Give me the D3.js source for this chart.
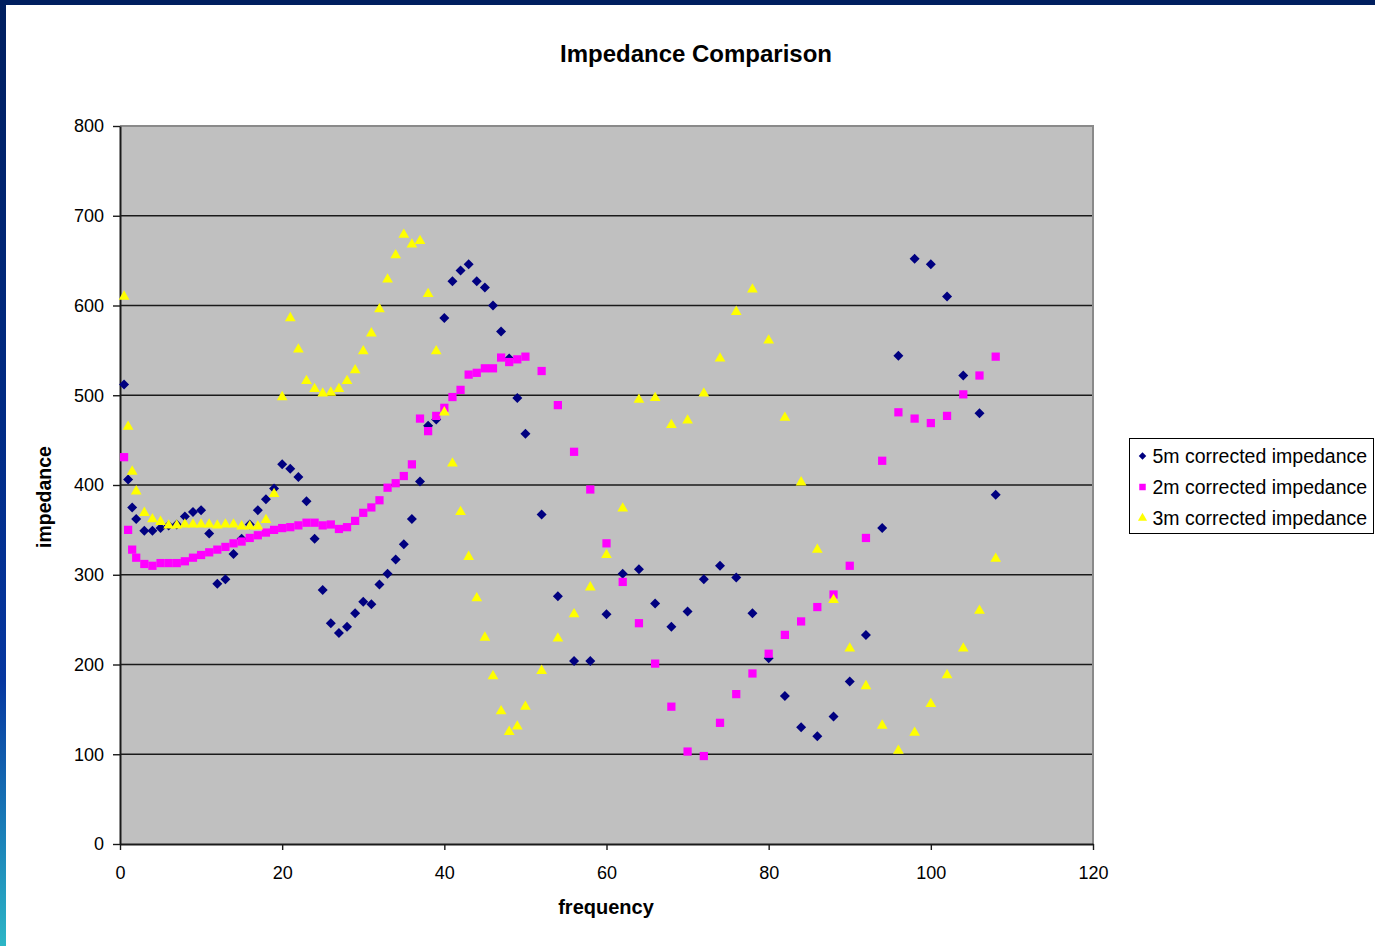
<!DOCTYPE html>
<html>
<head>
<style>
html, body {
    margin: 0;
    padding: 0;
    width: 100%;
    height: 100%;
    overflow: hidden;
    background: #fff;
    font-family: Arial, "Liberation Sans", sans-serif;
}
</style>
</head>
<body>
<script src="https://d3js.org/d3.v7.min.js"></script>
<script>
// values
const freq = [0.5, 1, 1.5, 2, 3, 4, 5, 6, 7, 8, 9, 10, 11, 12, 13, 14, 15, 16, 17, 18, 19, 20,
    21, 22, 23, 24, 25, 26, 27, 28, 29, 30, 31, 32, 33, 34, 35, 36, 37, 38, 39, 40,
    41, 42, 43, 44, 45, 46, 47, 48, 49, 50, 52, 54, 56, 58, 60, 62, 64, 66, 68, 70,
    72, 74, 76, 78, 80, 82, 84, 86, 88, 90, 92, 94, 96, 98, 100, 102, 104, 106, 108];

const imp5m = [512, 406, 375, 362, 349, 349, 352, 355, 356, 365, 370, 372, 346, 290, 295, 323, 340, 356, 372, 384, 396, 423,
    418, 409, 382, 340, 283, 246, 235, 242, 257, 270, 267, 289, 301, 317, 334, 362, 404, 466, 473, 586,
    627, 639, 646, 627, 620, 600, 571, 541, 497, 457, 367, 276, 204, 204, 256, 301, 306, 268, 242, 259,
    295, 310, 297, 257, 207, 165, 130, 120, 142, 181, 233, 352, 544, 652, 646, 610, 522, 480, 389];

const imp2m = [431, 350, 328, 319, 312, 310, 313, 313, 313, 315, 319, 322, 325, 328, 331, 335, 337, 341, 344, 347, 350, 352,
    353, 355, 358, 358, 355, 356, 351, 353, 360, 369, 375, 383, 397, 402, 410, 423, 474, 460, 477, 486,
    498, 506, 523, 525, 530, 530, 542, 537, 540, 543, 527, 489, 437, 395, 335, 292, 246, 201, 153, 103,
    98, 135, 167, 190, 212, 233, 248, 264, 278, 310, 341, 427, 481, 474, 469, 477, 501, 522, 543];

const imp3m = [610, 465, 415, 393, 369, 362, 359, 355, 355, 356, 356, 356, 356, 355, 356, 356, 354, 354, 354, 361, 390, 498,
    586, 551, 516, 507, 502, 503, 507, 516, 528, 549, 569, 596, 629, 656, 679, 668, 672, 613, 549, 481,
    424, 370, 320, 274, 230, 187, 148, 125, 131, 153, 193, 229, 256, 286, 322, 374, 495, 497, 467, 472,
    502, 541, 593, 618, 561, 475, 403, 328, 272, 218, 176, 132, 104, 124, 156, 188, 218, 260, 318];

const seriesNames = ["5m corrected impedance", "2m corrected impedance", "3m corrected impedance"];
const xTicks = [0, 20, 40, 60, 80, 100, 120];
const yTicks = [0, 100, 200, 300, 400, 500, 600, 700, 800];

const [width, height] = [1375, 946];
const plot = {left: 120, right: 1093, top: 126, bottom: 844};

const svg = d3.select("body").append("svg")
    .attr("width", width)
    .attr("height", height);

// slide frame: navy strip on top, gradient strip on the left
const grad = svg.append("defs").append("linearGradient")
    .attr("id", "side")
    .attr("x1", 0).attr("y1", 0).attr("x2", 0).attr("y2", 1);
[["0%", "#001f5f"], ["45%", "#002b85"], ["72%", "#0637a0"], ["88%", "#1a7fb8"], ["100%", "#2db6c6"]]
    .forEach(([o, c]) => grad.append("stop").attr("offset", o).attr("stop-color", c));

svg.append("rect").attr("x", 0).attr("y", 0).attr("width", 6).attr("height", height).attr("fill", "url(#side)");
svg.append("rect").attr("x", 0).attr("y", 0).attr("width", width).attr("height", 5).attr("fill", "#001f5f");

const x = d3.scaleLinear().domain([0, 120]).range([plot.left, plot.right]);
const y = d3.scaleLinear().domain([0, 800]).range([plot.bottom, plot.top]);

// plot area
svg.append("rect")
    .attr("x", plot.left).attr("y", plot.top)
    .attr("width", plot.right - plot.left).attr("height", plot.bottom - plot.top)
    .attr("fill", "#c0c0c0");

svg.append("g")
    .selectAll("line")
    .data(yTicks.filter(t => t > 0 && t < 800))
    .join("line")
        .attr("x1", plot.left).attr("x2", plot.right)
        .attr("y1", d => y(d)).attr("y2", d => y(d))
        .attr("stroke", "#1a1a1a")
        .attr("stroke-width", 1.4);

svg.append("path")
    .attr("d", `M${plot.left},${plot.top}H${plot.right}V${plot.bottom}`)
    .attr("fill", "none")
    .attr("stroke", "#8a8a8a")
    .attr("stroke-width", 2);

// axes
const yAxis = svg.append("g")
    .attr("transform", `translate(${plot.left},0)`)
    .call(d3.axisLeft(y).tickValues(yTicks).tickSize(7).tickSizeOuter(0).tickPadding(9));

const xAxis = svg.append("g")
    .attr("transform", `translate(0,${plot.bottom})`)
    .call(d3.axisBottom(x).tickValues(xTicks).tickSize(6).tickSizeOuter(0).tickPadding(16));

[xAxis, yAxis].forEach(g => {
    g.select(".domain").attr("stroke", "#1a1a1a").attr("stroke-width", 2);
    g.selectAll(".tick line").attr("stroke", "#1a1a1a").attr("stroke-width", 1.4);
    g.selectAll(".tick text")
        .attr("fill", "#000")
        .style("font-family", "Arial, 'Liberation Sans', sans-serif")
        .style("font-size", "18px");
});

// titles
svg.append("text")
    .attr("x", 696).attr("y", 62)
    .attr("text-anchor", "middle")
    .style("font-size", "24px")
    .style("font-weight", "bold")
    .text("Impedance Comparison");

svg.append("text")
    .attr("x", 606).attr("y", 914)
    .attr("text-anchor", "middle")
    .style("font-size", "20px")
    .style("font-weight", "bold")
    .text("frequency");

svg.append("text")
    .attr("transform", "translate(51,497) rotate(-90)")
    .attr("text-anchor", "middle")
    .style("font-size", "19.5px")
    .style("font-weight", "bold")
    .text("impedance");

// markers
const series = [
    {name: seriesNames[0], values: imp5m, color: "#000080",
        shape: d3.symbolSquare, size: 50, rotate: 45, legendSize: 28},
    {name: seriesNames[1], values: imp2m, color: "#ff00ff",
        shape: d3.symbolSquare, size: 68, rotate: 0, legendSize: 42},
    {name: seriesNames[2], values: imp3m, color: "#ffff00",
        shape: d3.symbolTriangle, size: 50, rotate: 0, legendSize: 36}
];

series.forEach(s => {
    const pts = freq.map((f, i) => ({f, v: s.values[i]}));
    svg.append("g")
        .selectAll("path")
        .data(pts)
        .join("path")
            .attr("d", d3.symbol(s.shape, s.size))
            .attr("transform", d => `translate(${x(d.f)},${y(d.v)}) rotate(${s.rotate})`)
            .attr("fill", s.color);
});

// legend
const legend = svg.append("g").attr("transform", "translate(1129.5,438.5)");
legend.append("rect")
    .attr("width", 244).attr("height", 95)
    .attr("fill", "#fff")
    .attr("stroke", "#000")
    .attr("stroke-width", 1);

series.forEach((s, i) => {
    const row = legend.append("g").attr("transform", `translate(0,${17.5 + i * 31})`);
    row.append("path")
        .attr("d", d3.symbol(s.shape, s.legendSize))
        .attr("transform", `translate(13,0) rotate(${s.rotate})`)
        .attr("fill", s.color);
    row.append("text")
        .attr("x", 23).attr("y", 7)
        .style("font-size", "19.5px")
        .text(s.name);
});
</script>
</body>
</html>
